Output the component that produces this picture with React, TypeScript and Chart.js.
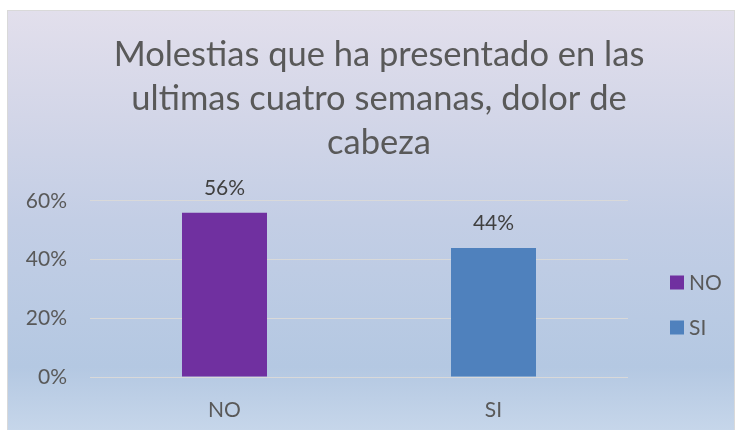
import React, { useEffect, useRef } from "react";
import { Chart, registerables } from "chart.js";

Chart.register(...registerables);

const categories = ["NO", "SI"];
const values = [0.56, 0.44];
const barColors = ["#7030A0", "#4F81BD"];
const titleLines = [
  "Molestias que ha presentado en las",
  "ultimas cuatro semanas, dolor de",
  "cabeza",
];
const yMin = 0;
const yMax = 0.6;
const yStep = 0.2;

const FONT = "Lato, 'Noto Sans', sans-serif";
const TEXT = "#595959";

const pct = (v: number) => Math.round(v * 100) + "%";

const dataLabelPlugin = {
  id: "dataLabels",
  afterDatasetsDraw(chart: any) {
    const ctx = chart.ctx;
    const meta = chart.getDatasetMeta(0);
    ctx.save();
    ctx.font = `21px ${FONT}`;
    ctx.fillStyle = "#404040";
    ctx.textAlign = "center";
    ctx.textBaseline = "alphabetic";
    meta.data.forEach((bar: any, i: number) => {
      ctx.fillText(pct(values[i]), bar.x, bar.y - 18);
    });
    ctx.restore();
  },
};

const legendPlugin = {
  id: "sideLegend",
  afterDraw(chart: any) {
    const ctx = chart.ctx;
    const area = chart.chartArea;
    const boxX = area.right + 42;
    const spacing = 45;
    const centerY = (area.top + area.bottom) / 2 + 16;
    const startY = centerY - (spacing * (categories.length - 1)) / 2;
    ctx.save();
    ctx.font = `21px ${FONT}`;
    ctx.textBaseline = "middle";
    ctx.textAlign = "left";
    categories.forEach((c, i) => {
      const y = startY + i * spacing;
      ctx.fillStyle = barColors[i];
      ctx.fillRect(boxX, y - 7, 14, 14);
      ctx.fillStyle = TEXT;
      ctx.fillText(c, boxX + 19, y + 1);
    });
    ctx.restore();
  },
};

export default function App() {
  const ref = useRef<HTMLCanvasElement | null>(null);

  useEffect(() => {
    if (!ref.current) return;
    const chart = new Chart(ref.current, {
      type: "bar",
      data: {
        labels: categories,
        datasets: [
          {
            label: "Serie",
            data: values,
            backgroundColor: barColors,
            borderWidth: 0,
            categoryPercentage: 1,
            barPercentage: 0.316,
          },
        ],
      },
      options: {
        responsive: false,
        animation: false,
        devicePixelRatio: 1,
        layout: { padding: { left: 16, right: 0, top: 0, bottom: 0 } },
        plugins: {
          legend: { display: false },
          tooltip: { enabled: false },
          title: {
            display: true,
            text: titleLines,
            color: TEXT,
            font: { family: FONT, size: 34.5, weight: "normal", lineHeight: 44 / 34.5 },
            padding: { top: 22, bottom: 36 },
          },
        },
        scales: {
          x: {
            grid: { display: false },
            border: { display: false },
            ticks: { color: TEXT, font: { family: FONT, size: 21 }, padding: 13 },
            afterFit(s: any) {
              s.height = 53;
            },
          },
          y: {
            min: yMin,
            max: yMax,
            grid: { color: "#D9D9D9", drawTicks: false, lineWidth: 1 },
            border: { display: false },
            ticks: {
              stepSize: yStep,
              color: TEXT,
              font: { family: FONT, size: 21 },
              padding: 23,
              callback: (v: any) => pct(Number(v)),
            },
            afterFit(s: any) {
              s.width = 66;
            },
          },
          yRight: {
            position: "right",
            display: true,
            grid: { display: false },
            border: { display: false },
            ticks: { display: false },
            afterFit(s: any) {
              s.width = 106;
            },
          },
        },
      } as any,
      plugins: [dataLabelPlugin, legendPlugin],
    });
    return () => chart.destroy();
  }, []);

  return (
    <div
      style={{
        position: "absolute",
        left: 7,
        top: 10,
        width: 728,
        height: 420,
        boxSizing: "border-box",
        borderTop: "1px solid #D9D9D9",
        borderLeft: "1px solid #D9D9D9",
        borderRight: "1px solid #D9D9D9",
        background:
          "linear-gradient(to bottom, #E2DFEC 0%, #D3D6E8 25%, #C3CEE5 50%, #B4C8E2 85%, #C6D6EA 100%)",
      }}
    >
      <canvas ref={ref} width={726} height={419} style={{ display: "block" }} />
    </div>
  );
}
